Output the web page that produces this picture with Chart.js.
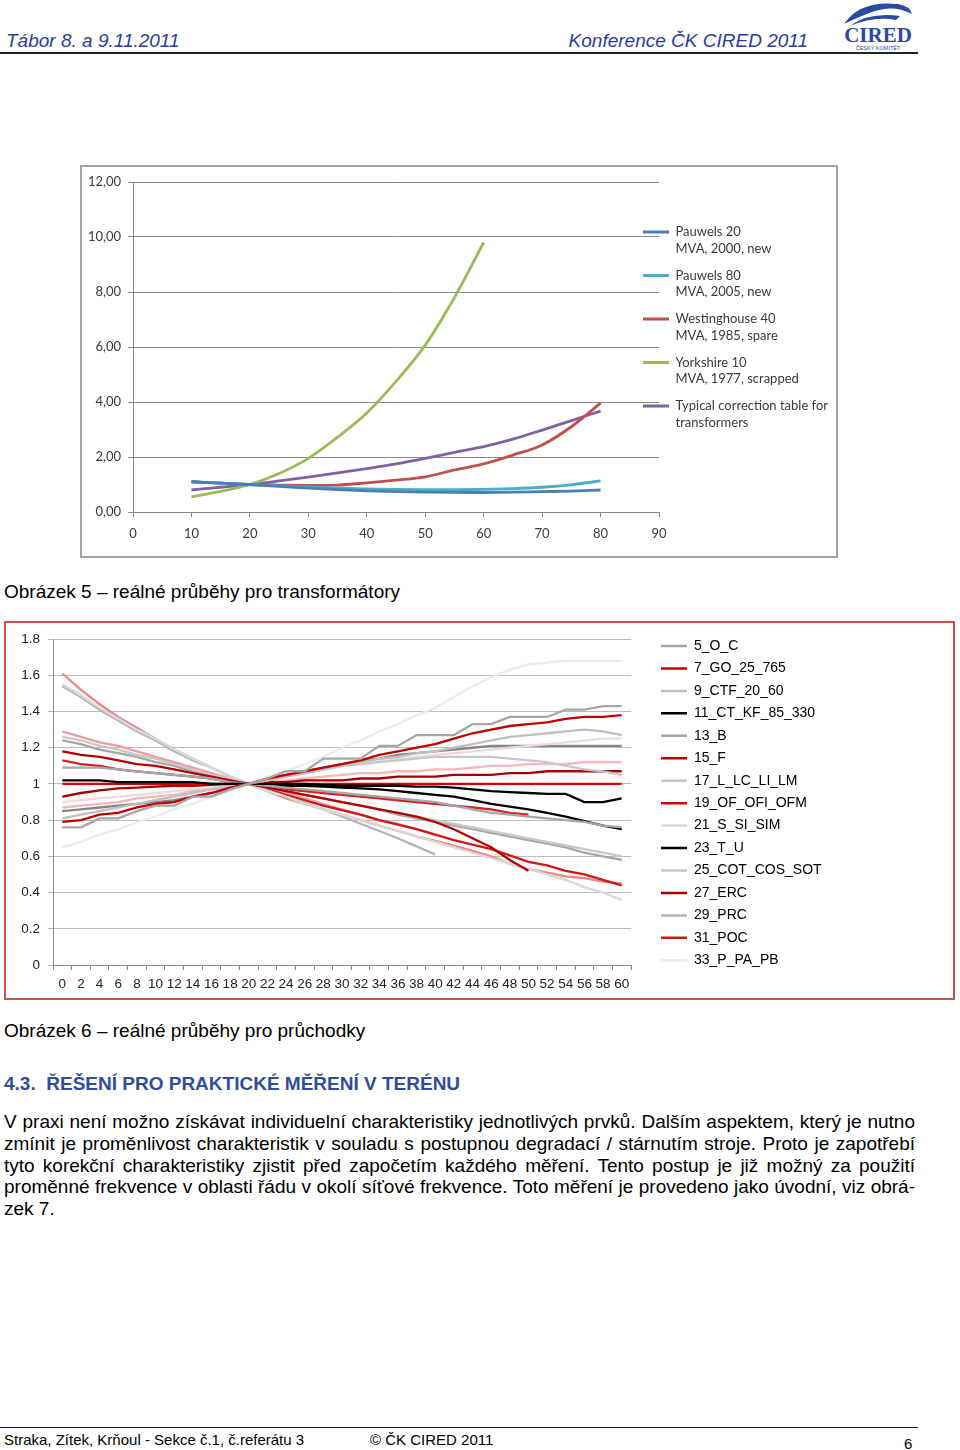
<!DOCTYPE html>
<html><head><meta charset="utf-8">
<script src="https://cdn.jsdelivr.net/npm/chart.js@4.4.1/dist/chart.umd.min.js"></script>
<style>
html,body{margin:0;padding:0;background:#fff;}
body{width:960px;height:1450px;position:relative;overflow:hidden;font-family:"Liberation Sans",Arial,sans-serif;color:#000;}
.t{position:absolute;white-space:nowrap;line-height:1;}
.hdr{font-style:italic;color:#2b3c9f;font-size:19px;top:31px;}
.cap{font-size:19px;left:4px;}
.par{position:absolute;left:4px;top:1111px;width:911px;font-size:19px;line-height:21.75px;}
.par div{white-space:nowrap;text-align:justify;text-align-last:justify;}
.par div.last{text-align-last:left;}
#box1{position:absolute;left:80px;top:165px;width:758px;height:393px;border:2px solid #a3a3a3;box-sizing:border-box;}
#box2{position:absolute;left:4px;top:621px;width:951px;height:379px;border:2px solid #cc4f4f;box-sizing:border-box;}
canvas{display:block;}
</style></head><body>

<div class="t hdr" style="left:6px;">Tábor 8. a 9.11.2011</div>
<div class="t hdr" style="right:152px;">Konference ČK CIRED 2011</div>
<svg style="position:absolute;left:838px;top:0;" width="80" height="54" viewBox="0 0 80 54">
  <path d="M6 24 Q 22 0 60 4 Q 72 6 74 14 Q 56 4 34 12 Q 18 18 6 24 Z" fill="#2c4aa0"/>
  <path d="M12 26 Q 30 12 62 16 L 58 20 Q 36 16 12 26 Z" fill="#2c4aa0"/>
  <text x="40" y="42" text-anchor="middle" font-family="Liberation Serif" font-weight="bold" font-size="21" fill="#2c4aa0">CIRED</text>
  <text x="40" y="50" text-anchor="middle" font-family="Liberation Sans" font-size="5.5" fill="#2c4aa0">ČESKÝ KOMITÉT</text>
</svg>
<div style="position:absolute;left:0;top:52px;width:918px;height:2px;background:#222;"></div>

<div id="box1"><canvas id="c1" width="754" height="389"></canvas></div>
<div class="t cap" style="top:582px;">Obrázek 5 – reálné průběhy pro transformátory</div>

<div id="box2"><canvas id="c2" width="947" height="375"></canvas></div>
<div class="t cap" style="top:1021px;">Obrázek 6 – reálné průběhy pro průchodky</div>

<div class="t" style="left:4px;top:1074px;font-size:19px;font-weight:bold;color:#2f4d9c;">4.3.&nbsp; ŘEŠENÍ PRO PRAKTICKÉ MĚŘENÍ V TERÉNU</div>

<div class="par">
<div>V praxi není možno získávat individuelní charakteristiky jednotlivých prvků. Dalším aspektem, který je nutno</div>
<div>zmínit je proměnlivost charakteristik v souladu s postupnou degradací / stárnutím stroje. Proto je zapotřebí</div>
<div>tyto korekční charakteristiky zjistit před započetím každého měření. Tento postup je již možný za použití</div>
<div>proměnné frekvence v oblasti řádu v okolí síťové frekvence. Toto měření je provedeno jako úvodní, viz obrá-</div>
<div class="last">zek 7.</div>
</div>

<div style="position:absolute;left:0;top:1427px;width:918px;height:1px;background:#222;"></div>
<div class="t" style="left:4px;top:1432px;font-size:15px;">Straka, Zítek, Krňoul - Sekce č.1, č.referátu 3</div>
<div class="t" style="left:370px;top:1432px;font-size:15px;">© ČK CIRED 2011</div>
<div class="t" style="left:904px;top:1436px;font-size:15px;">6</div>

<script>
// ---------- Chart 1 data (Obrázek 5) ----------
const trafoX = [10,15,20,25,30,35,40,45,50,55,60,65,70,75,80];
const yorkX  = [10,15,20,25,30,35,40,45,50,55,60];
const pauwels20    = [1.10,1.05,1.00,0.93,0.87,0.81,0.77,0.74,0.72,0.71,0.71,0.72,0.74,0.76,0.80];
const pauwels80    = [1.10,1.05,1.00,0.95,0.91,0.87,0.84,0.82,0.81,0.81,0.82,0.85,0.90,0.99,1.13];
const westinghouse = [1.10,1.05,1.00,0.98,0.97,0.98,1.06,1.16,1.28,1.53,1.75,2.07,2.44,3.10,3.96];
const yorkshire    = [0.55,0.75,1.00,1.40,1.95,2.72,3.60,4.75,6.07,7.80,9.80];
const typical      = [0.80,0.90,1.00,1.13,1.27,1.42,1.58,1.75,1.95,2.17,2.38,2.65,2.98,3.32,3.67];
const trafoLegend = [
  ['Pauwels 20','MVA, 2000, new'],
  ['Pauwels 80','MVA, 2005, new'],
  ['Westinghouse 40','MVA, 1985, spare'],
  ['Yorkshire 10','MVA, 1977, scrapped'],
  ['Typical correction table for','transformers']
];
const trafoColors = ['#4a7ebb','#4bacc6','#c0504d','#9bbb59','#7f63a1'];

// ---------- Chart 2 data (Obrázek 6) ----------
const bushingX = ['0','2','4','6','8','10','12','14','16','18','20','22','24','26','28','30','32','34','36','38','40','42','44','46','48','50','52','54','56','58','60'];
const s_5_O_C        = [0.76,0.76,0.81,0.81,0.85,0.88,0.88,0.93,0.93,0.97,1.00,1.03,1.07,1.07,1.14,1.14,1.14,1.21,1.21,1.27,1.27,1.27,1.33,1.33,1.37,1.37,1.37,1.41,1.41,1.43,1.43];
const s_7_GO_25_765  = [0.79,0.80,0.83,0.84,0.87,0.89,0.90,0.93,0.95,0.98,1.00,1.03,1.05,1.07,1.09,1.11,1.13,1.16,1.18,1.20,1.22,1.25,1.28,1.30,1.32,1.33,1.34,1.36,1.37,1.37,1.38];
const s_9_CTF_20_60  = [0.81,0.83,0.85,0.87,0.89,0.91,0.93,0.95,0.97,0.98,1.00,1.02,1.04,1.06,1.08,1.10,1.12,1.14,1.15,1.17,1.18,1.20,1.22,1.24,1.26,1.27,1.28,1.29,1.30,1.29,1.27];
const s_11_CT_KF     = [1.02,1.02,1.02,1.01,1.01,1.01,1.01,1.01,1.00,1.00,1.00,1.00,1.00,1.00,0.995,0.99,0.99,0.99,0.99,0.985,0.985,0.98,0.97,0.96,0.955,0.95,0.945,0.945,0.90,0.90,0.92];
const s_13_B         = [1.09,1.09,1.09,1.08,1.07,1.06,1.05,1.04,1.03,1.01,1.00,0.99,0.98,0.97,0.96,0.95,0.94,0.93,0.92,0.91,0.90,0.88,0.86,0.84,0.83,0.82,0.81,0.80,0.79,0.77,0.76];
const s_15_F         = [1.18,1.16,1.15,1.13,1.11,1.10,1.08,1.06,1.04,1.02,1.00,0.98,0.96,0.94,0.92,0.90,0.88,0.86,0.84,0.82,0.79,0.75,0.70,0.65,0.58,0.52,null,null,null,null,null];
const s_17_L_LC      = [null,null,null,null,null,null,null,null,null,null,1.00,1.02,1.04,1.06,1.08,1.10,1.11,1.12,1.13,1.14,1.15,1.15,1.15,1.15,1.14,1.13,1.12,1.10,1.08,1.07,1.05];
const s_19_OF        = [1.00,1.00,1.00,1.00,1.00,1.00,1.00,1.00,1.00,1.00,1.00,1.00,1.00,1.00,1.00,1.00,1.00,1.00,1.00,1.00,1.00,1.00,1.00,1.00,1.00,1.00,1.00,1.00,1.00,1.00,1.00];
const s_21_S_SI      = [1.55,1.49,1.42,1.36,1.30,1.25,1.19,1.14,1.09,1.04,1.00,0.96,0.93,0.89,0.86,0.83,0.80,0.77,0.74,0.71,0.68,0.65,0.62,0.59,0.56,0.53,0.50,0.47,0.43,0.40,0.36];
const s_23_T_U       = [null,null,null,null,null,null,null,null,null,null,1.00,0.995,0.99,0.99,0.985,0.98,0.975,0.97,0.96,0.95,0.94,0.93,0.91,0.89,0.875,0.86,0.84,0.82,0.795,0.77,0.75];
const s_25_COT       = [1.26,1.24,1.21,1.19,1.16,1.14,1.11,1.08,1.05,1.03,1.00,0.98,0.96,0.94,0.92,0.90,0.88,0.86,0.84,0.82,0.80,0.78,0.76,0.74,0.72,0.70,0.68,0.66,0.64,0.62,0.60];
const s_27_ERC       = [0.93,0.95,0.965,0.975,0.98,0.985,0.99,0.99,0.995,1.00,1.00,1.01,1.01,1.02,1.02,1.02,1.03,1.03,1.04,1.04,1.04,1.05,1.05,1.05,1.06,1.06,1.07,1.07,1.07,1.07,1.07];
const s_29_PRC       = [1.54,1.48,1.41,1.35,1.29,1.24,1.18,1.13,1.09,1.04,1.00,0.965,0.93,0.895,0.86,0.82,0.78,0.74,0.70,0.655,0.61,null,null,null,null,null,null,null,null,null,null];
const s_31_POC       = [null,null,null,null,null,null,null,null,null,null,1.00,0.97,0.94,0.91,0.88,0.855,0.83,0.80,0.775,0.75,0.72,0.69,0.665,0.64,0.605,0.57,0.55,0.52,0.50,0.47,0.44];
const s_33_P_PA_PB   = [0.65,0.68,0.72,0.75,0.79,0.82,0.86,0.89,0.93,0.96,1.00,1.04,1.07,1.11,1.15,1.20,1.24,1.29,1.33,1.38,1.42,1.48,1.54,1.59,1.63,1.66,1.67,1.68,1.68,1.68,1.68];
const x_pinkSteep    = [1.61,1.52,1.44,1.37,1.31,1.25,1.19,1.14,1.09,1.04,1.00,0.96,0.92,0.89,0.86,0.83,0.80,0.77,0.74,0.71,0.685,0.66,0.63,0.60,0.56,0.53,0.51,0.49,0.48,0.46,0.45];
const x_pinkShort    = [1.29,1.26,1.23,1.21,1.18,1.15,1.12,1.09,1.06,1.03,1.00,0.97,0.95,0.92,0.89,0.86,0.83,0.80,0.78,0.75,0.72,null,null,null,null,null,null,null,null,null,null];
const x_grayDown     = [1.24,1.22,1.19,1.17,1.15,1.12,1.10,1.07,1.05,1.02,1.00,0.98,0.96,0.94,0.92,0.90,0.88,0.86,0.83,0.81,0.79,0.77,0.75,0.73,0.71,0.69,0.67,0.65,0.62,0.60,0.58];
const x_redShort     = [1.13,1.11,1.10,1.08,1.07,1.06,1.05,1.04,1.03,1.01,1.00,0.98,0.97,0.96,0.95,0.94,0.93,0.92,0.91,0.90,0.89,0.88,0.87,0.86,0.84,0.83,null,null,null,null,null];
const x_pinkUp       = [0.87,0.88,0.89,0.90,0.92,0.93,0.94,0.96,0.97,0.99,1.00,1.01,1.02,1.03,1.04,1.05,1.06,1.06,1.07,1.07,1.08,1.08,1.09,1.10,1.10,1.11,1.11,1.11,1.12,1.12,1.12];
const x_paleUp       = [0.90,0.91,0.92,0.93,0.94,0.95,0.96,0.97,0.98,0.99,1.00,1.02,1.04,1.06,1.08,1.10,1.12,1.13,1.14,1.15,1.16,1.17,1.18,1.19,1.20,1.21,1.22,1.23,1.24,1.25,1.25];
const x_darkGrayUp   = [0.85,0.86,0.87,0.88,0.89,0.90,0.91,0.93,0.95,0.97,1.00,1.03,1.05,1.07,1.09,1.11,1.13,1.14,1.16,1.17,1.18,1.19,1.20,1.21,1.21,1.21,1.21,1.21,1.21,1.21,1.21];

const bushingNames = ['5_O_C','7_GO_25_765','9_CTF_20_60','11_CT_KF_85_330','13_B','15_F','17_L_LC_LI_LM','19_OF_OFI_OFM','21_S_SI_SIM','23_T_U','25_COT_COS_SOT','27_ERC','29_PRC','31_POC','33_P_PA_PB'];
const bushingSeries = [s_5_O_C,s_7_GO_25_765,s_9_CTF_20_60,s_11_CT_KF,s_13_B,s_15_F,s_17_L_LC,s_19_OF,s_21_S_SI,s_23_T_U,s_25_COT,s_27_ERC,s_29_PRC,s_31_POC,s_33_P_PA_PB];
const bushingColors = ['#a6a6a6','#c00000','#bfbfbf','#000000','#a6a6a6','#b00000','#c8c8c8','#d80000','#d9d9d9','#000000','#c8c8c8','#a80000','#b4b4b4','#d01818','#ececec'];
const extraSeries = [x_pinkSteep,x_pinkShort,x_grayDown,x_redShort,x_pinkUp,x_paleUp,x_darkGrayUp];
const extraColors = ['#ec8686','#f09c9c','#a6a6a6','#d42020','#f5b7b7','#f0dada','#858585'];

// ---------- legend placement helper ----------
function placeLegend(cfg) {
  return {
    id: 'placeLegend',
    beforeLayout(chart) {
      const lg = chart.legend;
      if (lg && !lg.__patched) {
        const fit = lg.fit.bind(lg);
        lg.fit = function () { fit(); this.width = cfg.width; };
        lg.__patched = true;
      }
    },
    afterLayout(chart) {
      const lg = chart.legend;
      const pad = lg.options.labels.padding;
      lg.left = cfg.x - pad;
      lg.right = chart.width;
      lg.top = cfg.y - pad - cfg.fontSize / 2;
      lg.bottom = chart.height;
    }
  };
}

// ---------- Chart 1 ----------
const toXY = (xs, ys) => xs.map((x, i) => ({x: x, y: ys[i]}));
const f1 = {family: 'Lato', size: 13};
new Chart(document.getElementById('c1'), {
  type: 'line',
  data: {
    datasets: [
      {data: toXY(trafoX, pauwels20)},
      {data: toXY(trafoX, pauwels80)},
      {data: toXY(trafoX, westinghouse)},
      {data: toXY(yorkX, yorkshire)},
      {data: toXY(trafoX, typical)}
    ].map((d, i) => Object.assign(d, {
      label: trafoLegend[i].join(' '),
      borderColor: trafoColors[i], backgroundColor: trafoColors[i],
      borderWidth: 2.8, pointRadius: 0, tension: 0.4, cubicInterpolationMode: 'monotone'
    }))
  },
  options: {
    responsive: false, animation: false, devicePixelRatio: 1,
    layout: {padding: {top: 15, left: 0, right: 0, bottom: 0}},
    plugins: {
      tooltip: {enabled: false},
      legend: {
        position: 'right', align: 'start',
        labels: {
          font: {family: 'Lato', size: 13, lineHeight: '16.5px'}, color: '#3a3a3a',
          boxWidth: 26, boxHeight: 3, padding: 10.5,
          generateLabels: chart => chart.data.datasets.map((ds, i) => ({
            text: trafoLegend[i], fillStyle: ds.borderColor, strokeStyle: ds.borderColor,
            lineWidth: 0, hidden: false, datasetIndex: i, fontColor: '#3a3a3a'
          }))
        }
      }
    },
    scales: {
      x: {
        type: 'linear', min: 0, max: 90,
        ticks: {stepSize: 10, padding: 9, color: '#3a3a3a', font: f1, maxRotation: 0, autoSkip: false},
        grid: {drawOnChartArea: false, drawTicks: true, tickLength: 5, color: '#8a8a8a'},
        border: {color: '#8a8a8a', width: 1},
        afterFit: s => { s.height = 44; }
      },
      y: {
        min: 0, max: 12,
        ticks: {stepSize: 2, padding: 7, color: '#3a3a3a', font: f1,
                callback: v => v.toFixed(2).replace('.', ',')},
        grid: {color: '#8a8a8a', tickLength: 5, drawTicks: true},
        border: {color: '#8a8a8a', width: 1},
        afterFit: s => { s.width = 51; }
      }
    }
  },
  plugins: [placeLegend({width: 177, x: 561, y: 65, fontSize: 13})]
});

// ---------- Chart 2 ----------
const f2 = {family: 'Liberation Sans', size: 13.5};
const ds2 = bushingSeries.map((d, i) => ({
  label: bushingNames[i], data: d, borderColor: bushingColors[i], backgroundColor: bushingColors[i],
  borderWidth: 2.3, pointRadius: 0, tension: 0
})).concat(extraSeries.map((d, i) => ({
  label: '', data: d, borderColor: extraColors[i], backgroundColor: extraColors[i],
  borderWidth: 2.3, pointRadius: 0, tension: 0
})));
new Chart(document.getElementById('c2'), {
  type: 'line',
  data: {labels: bushingX, datasets: ds2},
  options: {
    responsive: false, animation: false, devicePixelRatio: 1,
    layout: {padding: {top: 11, left: 0, right: 0, bottom: 0}},
    plugins: {
      tooltip: {enabled: false},
      legend: {
        position: 'right', align: 'start',
        labels: {
          font: {family: 'Liberation Sans', size: 14}, color: '#000',
          boxWidth: 26, boxHeight: 2.5, padding: 8.45,
          generateLabels: chart => bushingNames.map((n, i) => ({
            text: n, fillStyle: bushingColors[i], strokeStyle: bushingColors[i],
            lineWidth: 0, hidden: false, datasetIndex: i, fontColor: '#000'
          }))
        }
      }
    },
    scales: {
      x: {
        type: 'category', offset: true,
        ticks: {padding: 6, color: '#222', font: f2, maxRotation: 0, autoSkip: false},
        grid: {offset: true, drawOnChartArea: false, drawTicks: true, tickLength: 5, color: '#8c8c8c'},
        border: {color: '#8c8c8c', width: 1},
        afterFit: s => { s.height = 33; }
      },
      y: {
        min: 0, max: 1.8,
        ticks: {stepSize: 0.2, padding: 8, color: '#222', font: f2,
                callback: v => String(Math.round(v * 10) / 10)},
        grid: {color: '#bdbdbd', tickLength: 5, drawTicks: true},
        border: {color: '#8c8c8c', width: 1},
        afterFit: s => { s.width = 47; }
      }
    }
  },
  plugins: [placeLegend({width: 322, x: 655, y: 23, fontSize: 14})]
});
</script>
</body></html>
